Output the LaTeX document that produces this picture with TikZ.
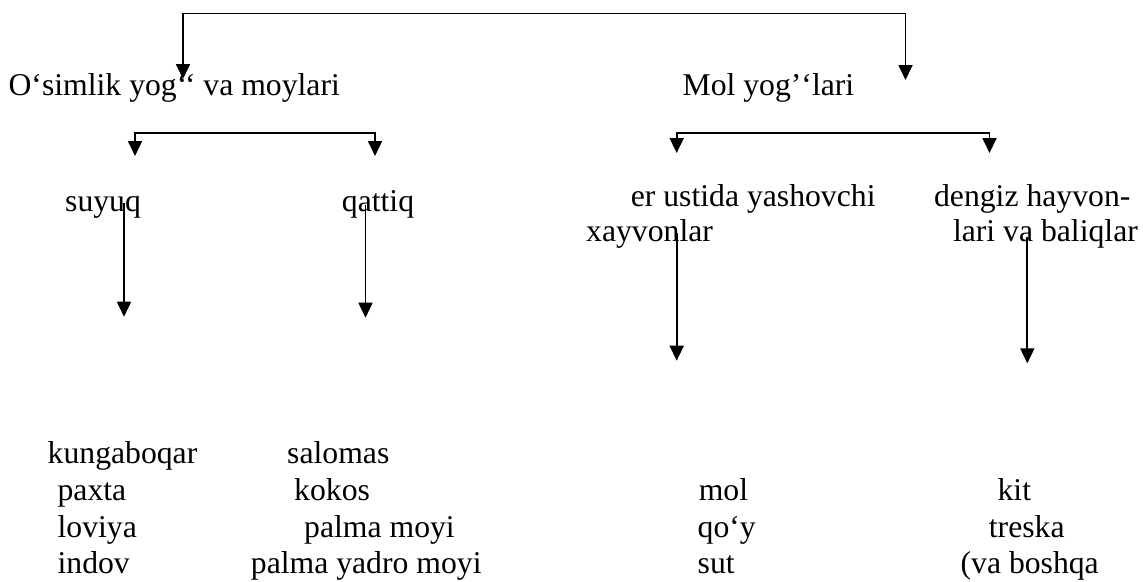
\documentclass[tikz,border=0pt]{standalone}
\usepackage{fontspec}
\setmainfont{Liberation Serif}
\usetikzlibrary{arrows.meta}
\begin{document}
\begin{tikzpicture}[x=1pt,y=-1pt,
  lbl/.style={anchor=base west, inner sep=0pt, font=\fontsize{31.7}{36.5}\selectfont},
  conn/.style={line width=1.8pt, -{Triangle[width=14pt,length=15pt]}},
  bothconn/.style={line width=1.8pt, line join=miter, {Triangle[width=14pt,length=15pt]}-{Triangle[width=14pt,length=15pt]}}]
\useasboundingbox (0,0) rectangle (1143,581);
% level 1
\node[lbl] (osim) at (8.4,95) {O‘simlik yog‘‘ va moylari};
\node[lbl] (mol) at (682.4,95) {Mol yog’‘lari};
% level 2
\node[lbl] (suyuq) at (65,211.7) {suyuq};
\node[lbl] (qattiq) at (341.7,211.7) {qattiq};
\node[lbl] (erA) at (630.6,206) {er ustida yashovchi};
\node[lbl] (erB) at (586,241.7) {xayvonlar};
\node[lbl] (denA) at (933.9,206) {dengiz hayvon-};
\node[lbl] (denB) at (952.8,241.7) {lari va baliqlar};
% lists
\node[lbl] (l1) at (47.5,463) {kungaboqar};
\node[lbl] (l2) at (57.4,500) {paxta};
\node[lbl] (l3) at (57.4,537) {loviya};
\node[lbl] (l4) at (57.4,573) {indov};
\node[lbl] (q1) at (287,463) {salomas};
\node[lbl] (q2) at (294,500) {kokos};
\node[lbl] (q3) at (304,537) {palma moyi};
\node[lbl] (q4) at (250.7,573) {palma yadro moyi};
\node[lbl] (m1) at (698.6,500) {mol};
\node[lbl] (m2) at (697.5,537) {qo‘y};
\node[lbl] (m3) at (697.5,573) {sut};
\node[lbl] (d1) at (997.4,500) {kit};
\node[lbl] (d2) at (988.7,537) {treska};
\node[lbl] (d3) at (960.4,573) {(va boshqa};
% coordinates
\coordinate (tA) at (183,79);
\coordinate (tB) at (183,13.5);
\coordinate (tC) at (905.5,13.5);
\coordinate (tD) at (905.5,80);
\coordinate (lA) at (135,156);
\coordinate (lB) at (135,132.7);
\coordinate (lC) at (375,132.7);
\coordinate (lD) at (375,156);
\coordinate (rA) at (676.7,153);
\coordinate (rB) at (676.7,132.7);
\coordinate (rC) at (989.5,132.7);
\coordinate (rD) at (989.5,153);
\coordinate (s0) at (124,203.3);
\coordinate (s1) at (124,316.7);
\coordinate (q0) at (365.5,205);
\coordinate (q1e) at (365.5,317.7);
\coordinate (x0) at (676.7,233.3);
\coordinate (x1) at (676.7,360.7);
\coordinate (b0) at (1027.3,236.7);
\coordinate (b1) at (1027.3,363.3);
% connectors
\draw[bothconn] (tA) -- (tB) -- (tC) -- (tD);
\draw[bothconn] (lA) -- (lB) -- (lC) -- (lD);
\draw[bothconn] (rA) -- (rB) -- (rC) -- (rD);
\draw[conn] (s0) -- (s1);
\draw[conn] (q0) -- (q1e);
\draw[conn] (x0) -- (x1);
\draw[conn] (b0) -- (b1);
\end{tikzpicture}
\end{document}
